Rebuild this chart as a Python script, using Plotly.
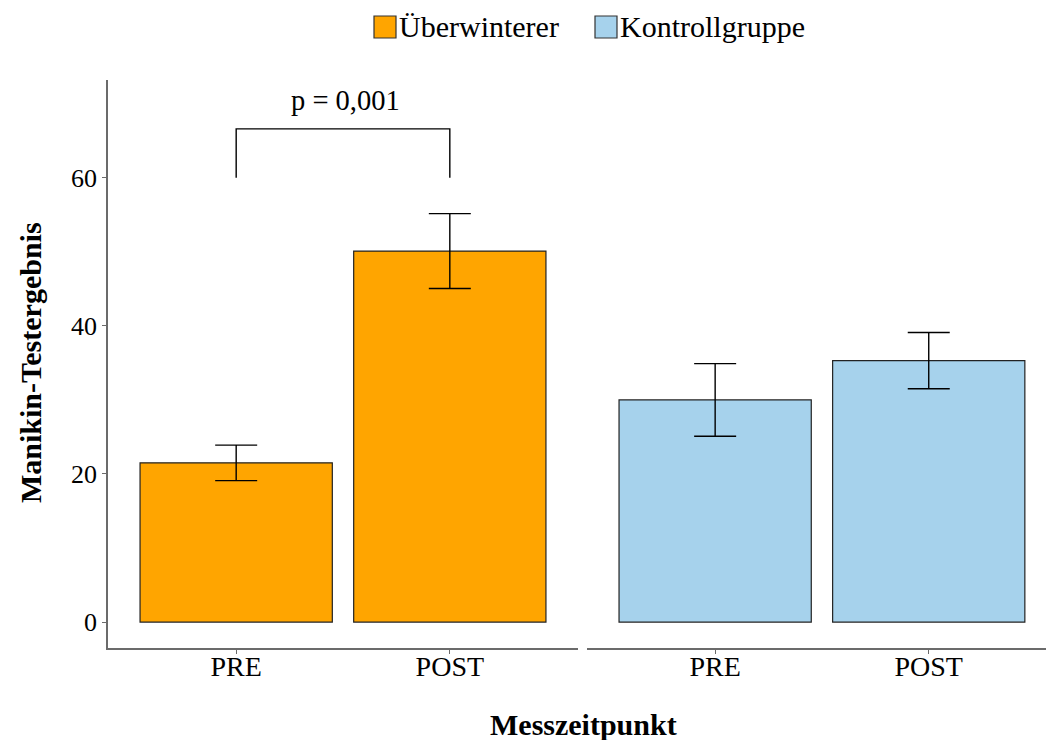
import plotly.graph_objects as go

# Messwerte (Mittelwert und Standardfehler) je Gruppe
zeitpunkte = ["PRE", "POST"]
ueberwinterer_mittel = [21.5, 50.1]
ueberwinterer_fehler = [2.4, 5.05]
kontrolle_mittel = [30.0, 35.3]
kontrolle_fehler = [4.9, 3.8]

# Signifikanzklammer zwischen PRE und POST der Überwinterer
klammer_x = ["PRE", "PRE", "POST", "POST"]
klammer_y = [60.0, 66.6, 66.6, 60.0]
p_text = "p = 0,001"
p_y = 70.4

y_ticks = [0, 20, 40, 60]

FARBE_UEB = "#FFA500"
FARBE_KON = "#A6D2EC"
SCHRIFT = "Liberation Serif, Times New Roman, serif"
ACHSE = "#6b6b6b"

W, H = 1046, 740

def px_x(v):
    return v / W

def px_y(v):
    return 1 - v / H

fig = go.Figure()

fig.add_trace(go.Bar(
    x=zeitpunkte, y=ueberwinterer_mittel, xaxis="x", yaxis="y",
    width=0.9, marker=dict(color=FARBE_UEB, line=dict(color="#222", width=1.2)),
    error_y=dict(type="data", array=ueberwinterer_fehler, color="black",
                 thickness=1.4, width=21),
    name="Überwinterer", showlegend=False,
))
fig.add_trace(go.Bar(
    x=zeitpunkte, y=kontrolle_mittel, xaxis="x2", yaxis="y",
    width=0.9, marker=dict(color=FARBE_KON, line=dict(color="#222", width=1.2)),
    error_y=dict(type="data", array=kontrolle_fehler, color="black",
                 thickness=1.4, width=21),
    name="Kontrollgruppe", showlegend=False,
))
fig.add_trace(go.Scatter(
    x=klammer_x, y=klammer_y, xaxis="x", yaxis="y", mode="lines",
    line=dict(color="black", width=1.4), showlegend=False, hoverinfo="skip",
))

achse_gemeinsam = dict(
    type="category", categoryorder="array", categoryarray=zeitpunkte,
    showline=True, linecolor=ACHSE, linewidth=1.6,
    ticks="outside", ticklen=4, tickcolor=ACHSE, tickwidth=1.2,
    showgrid=False, zeroline=False, ticklabelstandoff=-11,
    tickfont=dict(family=SCHRIFT, size=28, color="black"),
)

fig.update_layout(
    width=W, height=H,
    margin=dict(l=0, r=0, t=0, b=0),
    paper_bgcolor="white", plot_bgcolor="white",
    bargap=0.1,
    xaxis=dict(domain=[px_x(108), px_x(578)], range=[-0.6, 1.6], **achse_gemeinsam),
    xaxis2=dict(domain=[px_x(587), 1.0], range=[-0.6, 1.549], anchor="y",
                **achse_gemeinsam),
    yaxis=dict(domain=[px_y(648), px_y(80)], range=[-3.5, 73.2],
               tickvals=y_ticks, showline=True, linecolor=ACHSE, linewidth=1.6,
               ticks="outside", ticklen=4, tickcolor=ACHSE, tickwidth=1.2,
               showgrid=False, zeroline=False, anchor="x",
               tickfont=dict(family=SCHRIFT, size=26, color="black")),
)

annotations = [
    dict(x="POST", y=p_y, xref="x", yref="y", text=p_text, showarrow=False,
         xshift=-104, font=dict(family=SCHRIFT, size=28.5, color="black"),
         yanchor="middle"),
    dict(x=px_x(583), y=px_y(724), xref="paper", yref="paper",
         text="<b>Messzeitpunkt</b>", showarrow=False,
         font=dict(family=SCHRIFT, size=30, color="black"), yanchor="middle"),
    dict(x=px_x(30), y=px_y(363), xref="paper", yref="paper",
         text="<b>Manikin-Testergebnis</b>", showarrow=False, textangle=-90,
         font=dict(family=SCHRIFT, size=30, color="black"), xanchor="center"),
]

# Legende oben: Farbfeld plus Beschriftung
legende = [("Überwinterer", FARBE_UEB, 374), ("Kontrollgruppe", FARBE_KON, 595)]
shapes = []
for text, farbe, x0 in legende:
    shapes.append(dict(type="rect", xref="paper", yref="paper",
                       x0=px_x(x0), x1=px_x(x0 + 22), y0=px_y(38), y1=px_y(16),
                       fillcolor=farbe, line=dict(color="#333", width=1.2)))
    annotations.append(dict(x=px_x(x0 + 23), y=px_y(27), xref="paper", yref="paper",
                            text=text, showarrow=False, xanchor="left",
                            yanchor="middle",
                            font=dict(family=SCHRIFT, size=30, color="black")))

fig.update_layout(annotations=annotations, shapes=shapes)

fig.write_html("out.html")
